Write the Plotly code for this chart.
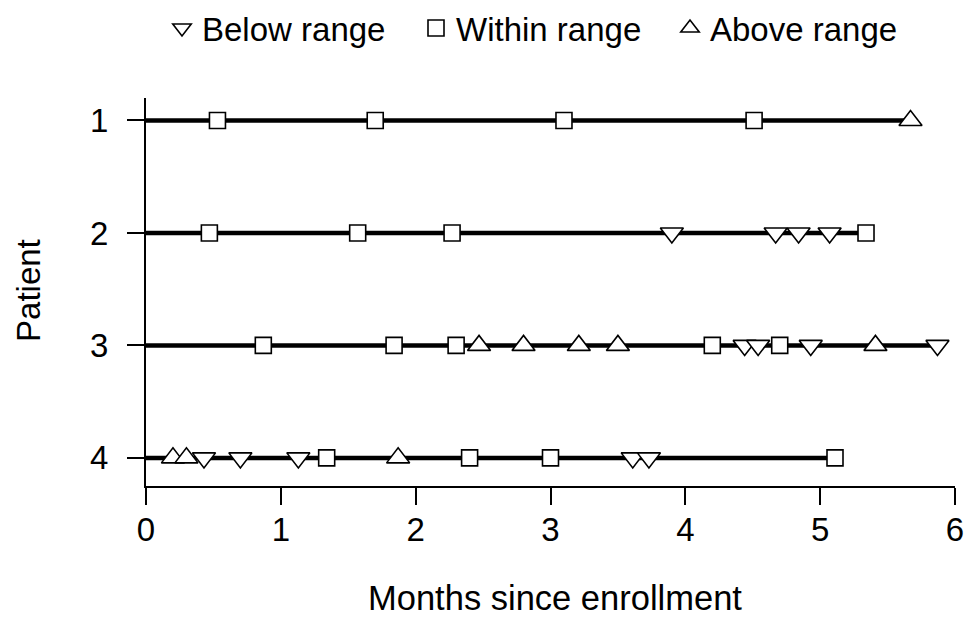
import plotly.graph_objects as go

patients = [1, 2, 3, 4]
status_names = ["Below range", "Within range", "Above range"]

p1_months = [0.53, 1.70, 3.10, 4.51, 5.67]
p1_status = ["Within range", "Within range", "Within range", "Within range", "Above range"]

p2_months = [0.47, 1.57, 2.27, 3.90, 4.67, 4.84, 5.07, 5.34]
p2_status = ["Within range", "Within range", "Within range", "Below range",
             "Below range", "Below range", "Below range", "Within range"]

p3_months = [0.87, 1.84, 2.30, 2.47, 2.80, 3.21, 3.50, 4.20, 4.44, 4.54, 4.70, 4.93, 5.41, 5.87]
p3_status = ["Within range", "Within range", "Within range", "Above range", "Above range",
             "Above range", "Above range", "Within range", "Below range", "Below range",
             "Within range", "Below range", "Above range", "Below range"]

p4_months = [0.20, 0.30, 0.43, 0.70, 1.13, 1.34, 1.87, 2.40, 3.00, 3.61, 3.73, 5.11]
p4_status = ["Above range", "Above range", "Below range", "Below range", "Below range",
             "Within range", "Above range", "Within range", "Within range", "Below range",
             "Below range", "Within range"]

months_all = [p1_months, p2_months, p3_months, p4_months]
status_all = [p1_status, p2_status, p3_status, p4_status]

symbols = {"Below range": "triangle-down", "Within range": "square", "Above range": "triangle-up"}
sizes = {"Below range": 20, "Within range": 16, "Above range": 20}

FONT = "Liberation Sans"
FS = 33

fig = go.Figure()

for p, m in zip(patients, months_all):
    fig.add_trace(go.Scatter(
        x=[0, max(m)], y=[p, p], mode="lines",
        line=dict(color="black", width=4.5), showlegend=False, hoverinfo="skip"))

for s in status_names:
    xs, ys = [], []
    for p, m, st in zip(patients, months_all, status_all):
        for xv, sv in zip(m, st):
            if sv == s:
                xs.append(xv)
                ys.append(p)
    fig.add_trace(go.Scatter(
        x=xs, y=ys, mode="markers", name=s,
        marker=dict(symbol=symbols[s], size=sizes[s], color="white",
                    line=dict(color="black", width=1.6))))

fig.update_layout(
    width=967, height=619,
    margin=dict(l=146, r=12, t=98, b=133, autoexpand=False),
    paper_bgcolor="white", plot_bgcolor="white",
    font=dict(family=FONT, size=FS, color="black"),
    showlegend=True,
    legend=dict(orientation="h", xref="container", yref="container",
                x=162 / 967, xanchor="left", y=1 - 28 / 619, yanchor="middle",
                font=dict(size=FS), itemwidth=30, traceorder="normal",
                entrywidth=209, entrywidthmode="pixels"),
    xaxis=dict(range=[0, 6], tickvals=[0, 1, 2, 3, 4, 5, 6], automargin=False,
               showgrid=False, zeroline=False, showline=True, linecolor="black",
               linewidth=2, ticks="outside", ticklen=17, tickwidth=2,
               tickcolor="black", tickfont=dict(size=FS), ticklabelstandoff=-4),
    yaxis=dict(range=[4.25, 0.8], tickvals=patients, ticktext=[str(p) for p in patients],
               automargin=False,
               showgrid=False, zeroline=False, showline=True, linecolor="black",
               linewidth=2, ticks="outside", ticklen=17, tickwidth=2,
               tickcolor="black", tickfont=dict(size=FS), ticklabelstandoff=12),
    annotations=[
        dict(text="Months since enrollment", xref="paper", yref="paper",
             x=0.5056, y=-0.289, xanchor="center", yanchor="middle",
             showarrow=False, font=dict(size=34.5)),
        dict(text="Patient", xref="paper", yref="paper",
             x=-0.146, y=0.505, xanchor="center", yanchor="middle",
             textangle=-90, showarrow=False, font=dict(size=FS)),
    ],
)

fig.write_html(
    "out.html",
    config={"displayModeBar": False},
    post_script="document.body.style.margin='0px';document.documentElement.style.overflow='hidden';document.body.style.overflow='hidden';",
)
